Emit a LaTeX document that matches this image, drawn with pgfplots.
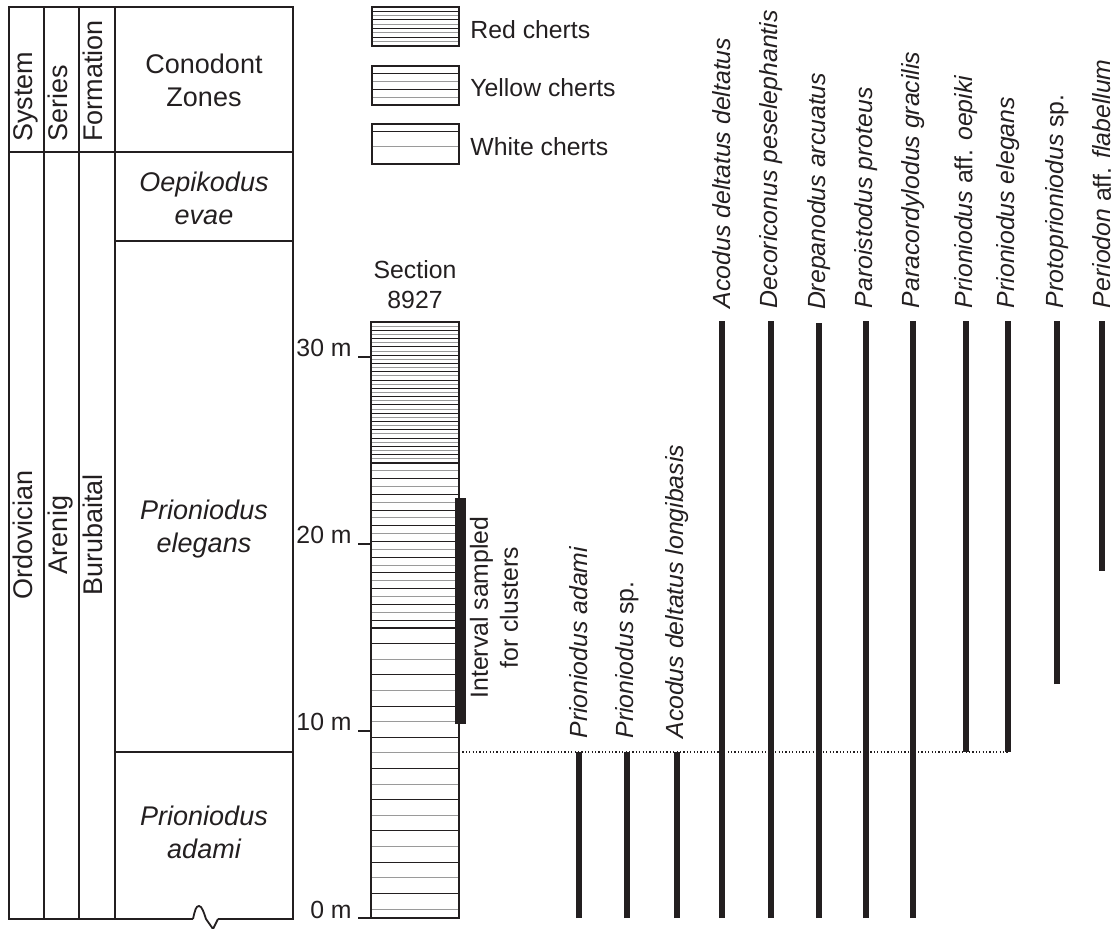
\documentclass[border=0pt]{standalone}
\usepackage{fontspec}
\setmainfont{Liberation Sans}
\usepackage{pgfplots}
\pgfplotsset{compat=1.18}
\usetikzlibrary{backgrounds}

\definecolor{ink}{HTML}{231F20}
\definecolor{hatch}{HTML}{9A9A9A}

\tikzset{
  taxbar/.style={ink, line width=3.4pt},
  taxlabel/.style={rotate=90, anchor=west, inner xsep=5pt, inner ysep=0pt,
      font=\fontsize{12.4}{15}\selectfont\itshape},
}

% one range bar per taxon: x position, base and top of range (m)
\newcommand{\taxon}[4]{%
  \addplot[taxbar] coordinates {(#1,#2) (#1,#3)} node[pos=1, taxlabel] {#4};}

\begin{document}
\begin{tikzpicture}[font=\fontsize{12.4}{15}\selectfont, every node/.style={text=ink}]
\begin{axis}[
    hide axis, scale only axis, clip=false,
    width=558.5pt, height=464.5pt,
    xmin=0, xmax=1117, ymin=-0.588, ymax=49.091,
]
\coordinate (TL) at (rel axis cs:0,1);
\coordinate (BR) at (rel axis cs:1,0);

% metre scale of the section
\pgfplotsinvokeforeach{0,10,20,30}{
  \draw[ink, line width=0.6pt] (axis cs:358,#1) -- (axis cs:371,#1);
  \node[anchor=base east, inner sep=0pt] at (axis cs:352,#1) {#1 m};
}

% interval sampled for clusters
\addplot[ink, line width=5.5pt] coordinates {(460.5,10.37) (460.5,22.46)};
\node[rotate=90, align=center, inner sep=0pt] at (axis cs:494,16.6) {Interval sampled\\for clusters};

\node[align=center, inner sep=0pt] at (axis cs:415,{(918-285)/18.7}) {Section\\8927};

% base of Prioniodus elegans Zone
\draw[ink, line width=0.6pt, dash pattern=on 0.6pt off 1.1pt] (axis cs:459,8.88) -- (axis cs:1008,8.88);

% taxon ranges
\taxon{579}{0}{8.88}{Prioniodus adami}
\taxon{627}{0}{8.88}{Prioniodus \upshape sp.}
\taxon{677}{0}{8.88}{Acodus deltatus longibasis}
\taxon{722}{0}{31.9}{Acodus deltatus deltatus}
\taxon{771}{0}{31.9}{Decoriconus peselephantis}
\taxon{819}{0}{31.8}{Drepanodus arcuatus}
\taxon{866}{0}{31.9}{Paroistodus proteus}
\taxon{913}{0}{31.9}{Paracordylodus gracilis}
\taxon{966}{8.88}{31.9}{Prioniodus {\upshape aff.} oepiki}
\taxon{1008}{8.88}{31.9}{Prioniodus elegans}
\taxon{1057}{12.51}{31.9}{Protoprioniodus \upshape sp.}
\taxon{1102}{18.56}{31.9}{Periodon {\upshape aff.} flabellum}
\end{axis}

\begin{scope}[on background layer, shift={(TL)}, x=0.5pt, y=-0.5pt]
  % stratigraphic table
  \draw[ink, line width=0.9pt] (193,919) -- (9,919) -- (9,7) -- (293,7) -- (293,919) -- (218,919);
  \draw[ink, line width=0.9pt] (193,919) .. controls (195,910) and (196,906) .. (199,906)
        .. controls (202,906) and (204,913) .. (206,919) -- (213,929) -- (218,919);
  \draw[ink, line width=0.75pt] (44,7) -- (44,919) (79,7) -- (79,919) (115,7) -- (115,919)
        (9,152) -- (293,152) (115,241) -- (293,241) (115,752) -- (293,752);
  \begin{scope}[font=\fontsize{13.5}{16.5}\selectfont]
    \node[rotate=90, anchor=mid west, inner sep=0pt] at (27,142) {System};
    \node[rotate=90, anchor=mid west, inner sep=0pt] at (62,142) {Series};
    \node[rotate=90, anchor=mid west, inner sep=0pt] at (97.5,142) {Formation};
    \node[rotate=90, anchor=mid, inner sep=0pt] at (27,535) {Ordovician};
    \node[rotate=90, anchor=mid, inner sep=0pt] at (62,535) {Arenig};
    \node[rotate=90, anchor=mid, inner sep=0pt] at (97.5,535) {Burubaital};
    \node[align=center, inner sep=0pt] at (204,80) {Conodont\\Zones};
    \node[align=center, inner sep=0pt, font=\fontsize{13.5}{16.5}\selectfont\itshape] at (204,198) {Oepikodus\\evae};
    \node[align=center, inner sep=0pt, font=\fontsize{13.5}{16.5}\selectfont\itshape] at (204,529) {Prioniodus\\elegans};
    \node[align=center, inner sep=0pt, font=\fontsize{13.5}{16.5}\selectfont\itshape] at (204,832) {Prioniodus\\adami};
  \end{scope}

  % legend
  \foreach \k in {1,...,8}{\ifodd\k\def\c{ink}\else\def\c{hatch}\fi
    \draw[color=\c, line width=0.5pt] (372,{7+\k*4.33}) -- (459,{7+\k*4.33});}
  \foreach \k in {1,...,4}{\ifodd\k\def\c{ink}\else\def\c{hatch}\fi
    \draw[color=\c, line width=0.5pt] (372,{66+\k*7.8}) -- (459,{66+\k*7.8});}
  \draw[ink, line width=0.5pt] (372,132) -- (459,132);
  \draw[hatch, line width=0.5pt] (372,147) -- (459,147);
  \draw[ink, line width=1pt] (372,7) rectangle (459,46) (372,66) rectangle (459,105) (372,124) rectangle (459,164);
  \node[anchor=west, inner sep=0pt] at (470,30) {Red cherts};
  \node[anchor=west, inner sep=0pt] at (470,88) {Yellow cherts};
  \node[anchor=west, inner sep=0pt] at (470,147) {White cherts};

  % section 8927
  \foreach \k in {1,...,33}{\ifodd\k\def\c{hatch}\else\def\c{ink}\fi
    \draw[color=\c, line width=0.5pt] (371,{463-\k*4.147}) -- (459,{463-\k*4.147});}
  \foreach \k in {1,...,20}{\ifodd\k\def\c{hatch}\else\def\c{ink}\fi
    \draw[color=\c, line width=0.5pt] (371,{463+\k*7.857}) -- (459,{463+\k*7.857});}
  \foreach \k in {0,...,17}{\ifodd\k\def\c{ink}\else\def\c{hatch}\fi
    \draw[color=\c, line width=0.5pt] (371,{909-\k*15.61}) -- (459,{909-\k*15.61});}
  \draw[ink, line width=0.9pt] (371,463) -- (459,463);
  \draw[ink, line width=0.7pt] (371,628) -- (459,628);
  \draw[ink, line width=0.8pt] (371,322) rectangle (459,918);
\end{scope}

\pgfresetboundingbox
\useasboundingbox (TL) rectangle (BR);
\end{tikzpicture}
\end{document}
